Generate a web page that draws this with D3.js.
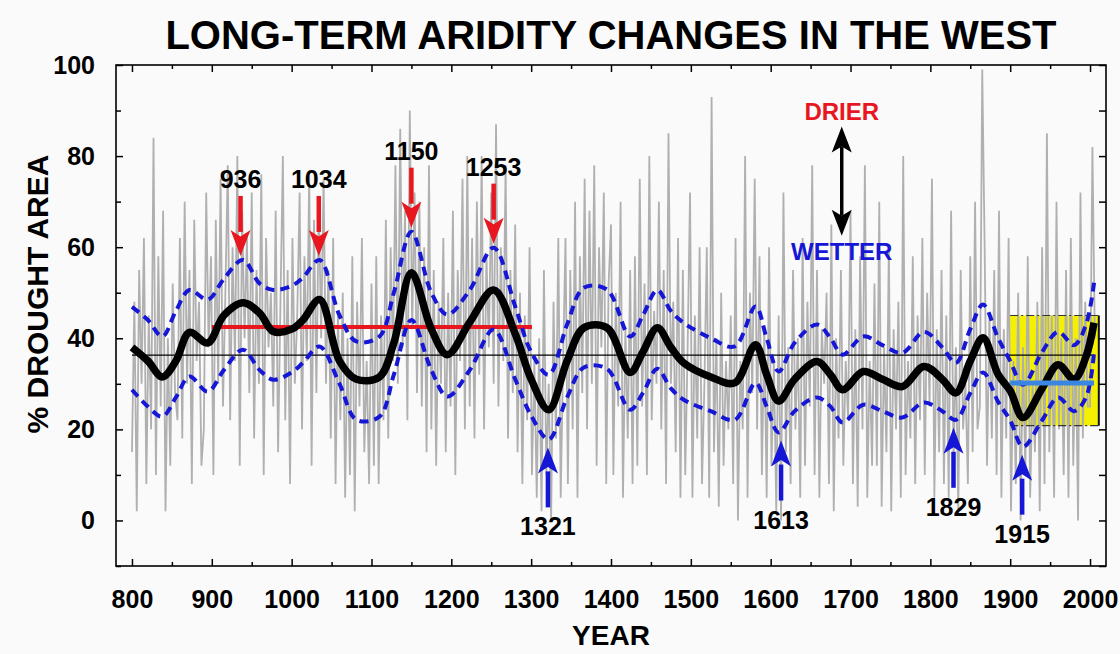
<!DOCTYPE html>
<html>
<head>
<meta charset="utf-8">
<script src="https://cdn.jsdelivr.net/npm/d3@7"></script>
<style>
  body { margin: 0; background: #fafafa; }
  svg text { font-family: "Liberation Sans", Arial, Helvetica, sans-serif; font-weight: bold; }
</style>
</head>
<body>
<script>
// annual % drought area, read every 3rd year starting at 800
const startYear = 800, yearStep = 3;
const annual = [
  15, 48, 2, 55, 30, 62, 8, 45, 20, 84,
  10, 58, 25, 68, 2, 40, 12, 52, 28, 22,
  62, 18, 70, 30, 55, 8, 66, 35, 48, 12,
  20, 72, 38, 58, 10, 66, 30, 75, 25, 50,
  78, 22, 60, 35, 80, 12, 68, 40, 62, 28,
  72, 18, 55, 30, 76, 10, 62, 38, 50, 25,
  68, 15, 48, 80, 22, 55, 8, 62, 30, 45,
  72, 20, 58, 35, 76, 12, 66, 28, 70, 40,
  75, 30, 55, 18, 62, 8, 45, 22, 50, 5,
  40, 10, 58, 2, 48, 25, 62, 15, 35, 8,
  52, 12, 58, 8, 45, 22, 66, 18, 60, 35,
  78, 30, 86, 38, 68, 22, 90, 42, 72, 28,
  70, 25, 60, 15, 78, 20, 55, 12, 48, 30,
  62, 15, 50, 25, 68, 10, 55, 35, 75, 20,
  80, 25, 62, 18, 70, 32, 80, 20, 58, 38,
  72, 30, 87, 25, 60, 35, 78, 18, 55, 28,
  65, 15, 50, 8, 45, 22, 60, 10, 35, 5,
  40, 2, 55, 10, 30, 0, 48, 18, 62, 5,
  35, 62, 8, 55, 20, 70, 5, 58, 28, 75,
  20, 68, 30, 78, 12, 60, 38, 72, 8, 52,
  65, 10, 50, 25, 70, 5, 42, 18, 55, 8,
  58, 12, 75, 25, 52, 10, 80, 22, 46, 30,
  70, 20, 55, 8, 85, 30, 48, 15, 62, 5,
  55, 10, 38, 72, 5, 45, 18, 60, 8, 30,
  60, 5, 93, 15, 40, 3, 50, 12, 35, 20,
  45, 8, 62, 0, 35, 20, 80, 5, 50, 28,
  75, 20, 58, 10, 42, 5, 60, 12, 35, 2,
  45, 0, 72, 15, 38, 8, 55, 20, 40, 5,
  62, 12, 48, 25, 78, 10, 55, 5, 42, 30,
  50, 8, 65, 2, 40, 18, 55, 12, 35, 22,
  68, 8, 42, 3, 58, 20, 78, 5, 35, 12,
  52, 12, 70, 3, 38, 15, 60, 2, 42, 20,
  48, 5, 80, 10, 35, 18, 58, 8, 45, 22,
  62, 10, 50, 25, 75, 5, 42, 15, 55, 8,
  45, 5, 68, 12, 38, 2, 55, 20, 30, 8,
  58, 15, 70, 20, 25, 99, 60, 12, 45, 18,
  55, 10, 68, 5, 42, 18, 62, 2, 35, 8,
  50, 0, 38, 10, 58, 5, 30, 15, 48, 2,
  60, 8, 85, 15, 45, 5, 70, 20, 40, 10,
  55, 5, 62, 12, 40, 0, 72, 18, 48, 25,
  25, 82, 40
];

// smoothed series and its confidence band
const smoothYears = [800, 820, 838, 855, 872, 895, 915, 939, 960, 977,
  1000, 1014, 1035, 1060, 1081, 1110, 1128, 1150, 1175, 1195,
  1223, 1253, 1280, 1300, 1322, 1345, 1366, 1395, 1424, 1440,
  1458, 1475, 1491, 1525, 1555, 1581, 1595, 1610, 1630, 1658,
  1675, 1690, 1716, 1740, 1765, 1792, 1815, 1832, 1850, 1866,
  1885, 1900, 1916, 1940, 1960, 1980, 1995, 2005];
const smoothMean = [38, 35, 31.5, 35, 41.3, 39, 45, 47.8, 45.5, 41.5,
  42, 44, 48.5, 35, 31, 31.5, 39, 54.4, 42, 36.4,
  43.5, 50.6, 41, 31, 24.3, 35, 42.3, 42.3, 32.5, 37,
  42.3, 38, 34.6, 31.5, 30.2, 38.6, 32, 26.2, 31, 34.9,
  32, 28.7, 32.7, 31, 29.4, 33.8, 31, 28, 35, 40.1,
  32, 28.5, 22.6, 29, 34.2, 31, 36, 43.4];
const upperBand = [46.9, 44, 40.4, 46, 50.6, 48.5, 53, 57.2, 52, 50.6,
  51.5, 53.3, 57.2, 45, 39.3, 40.4, 50, 63.4, 50, 45.2,
  50.6, 59.9, 47, 37, 32, 43, 51.1, 50.7, 40.4, 45,
  50.6, 46, 43.4, 40, 38.2, 47, 40, 32.7, 39, 43,
  40, 36.4, 40.4, 38.5, 36.8, 41.4, 38, 34.6, 42, 47.4,
  40, 35, 29.8, 37, 41.4, 38.5, 43, 52.2];
const lowerBand = [28.7, 25, 22.8, 27, 31.6, 28.3, 33, 37.5, 33, 30.9,
  32.5, 34.6, 38.2, 30, 22.1, 22.8, 32, 44, 33, 27.2,
  33, 41.9, 31, 23, 17.8, 27, 33.6, 33.3, 24.3, 28,
  33.3, 29, 26.5, 24, 22.1, 30.2, 25, 19.3, 24, 27,
  25, 21.5, 25.4, 24, 22.6, 25.9, 24, 22.1, 28, 32.5,
  26, 22, 16.2, 22, 27, 24, 27, 36.8];

const longTermMean = 36.3, longTermSpan = [800, 2005];
const medievalMean = 42.5, medievalSpan = [900, 1301];
const modernMean = 30.2, modernSpan = [1900, 2005];
const modernRange = [20.8, 45], modernRangeSpan = [1900, 2011];

const drierYears = [936, 1034, 1150, 1253];
const wetterYears = [1321, 1613, 1829, 1915];

const xTicks = [800, 900, 1000, 1100, 1200, 1300, 1400, 1500, 1600, 1700, 1800, 1900, 2000];
const yTicks = [0, 20, 40, 60, 80, 100];

const width = 1120, height = 654;
const plotLeft = 116, plotRight = 1106, plotTop = 65, plotBottom = 566;
const red = "#e8161e", blue = "#1616d6";

const svg = d3.select("body").append("svg")
    .attr("width", width)
    .attr("height", height);

const x = d3.scaleLinear().domain([780, 2020]).range([plotLeft, plotRight]);
const y = d3.scaleLinear().domain([-10, 100]).range([plotBottom, plotTop]);

// yellow box of the instrumental period, under the annual line
svg.append("rect")
    .attr("x", x(modernRangeSpan[0]))
    .attr("y", y(modernRange[1]))
    .attr("width", x(modernRangeSpan[1]) - x(modernRangeSpan[0]))
    .attr("height", y(modernRange[0]) - y(modernRange[1]))
    .attr("fill", "#f4f000");

// annual values
svg.append("path")
    .datum(annual)
    .attr("fill", "none")
    .attr("stroke", "#b0b0b0")
    .attr("stroke-width", 1.8)
    .attr("d", d3.line()
        .x((d, i) => x(startYear + i * yearStep))
        .y(d => y(d)));

modernRange.forEach(v => {
  svg.append("line")
      .attr("x1", x(modernRangeSpan[0])).attr("x2", x(modernRangeSpan[1]))
      .attr("y1", y(v)).attr("y2", y(v))
      .attr("stroke", "#333").attr("stroke-width", 1.2)
      .attr("stroke-dasharray", "8,3,2,3");
});
svg.append("line")
    .attr("x1", x(modernRangeSpan[1])).attr("x2", x(modernRangeSpan[1]))
    .attr("y1", y(modernRange[0])).attr("y2", y(modernRange[1]))
    .attr("stroke", "#111").attr("stroke-width", 2);

// long-term mean
svg.append("line")
    .attr("x1", x(longTermSpan[0])).attr("x2", x(longTermSpan[1]))
    .attr("y1", y(longTermMean)).attr("y2", y(longTermMean))
    .attr("stroke", "#000").attr("stroke-width", 1.3);

// medieval mean
svg.append("line")
    .attr("x1", x(medievalSpan[0])).attr("x2", x(medievalSpan[1]))
    .attr("y1", y(medievalMean)).attr("y2", y(medievalMean))
    .attr("stroke", red).attr("stroke-width", 4);

const smoothLine = vals => d3.line()
    .x((d, i) => x(smoothYears[i]))
    .y(d => y(d))
    .curve(d3.curveCatmullRom.alpha(0.5))(vals);

[upperBand, lowerBand].forEach(b => {
  svg.append("path")
      .attr("d", smoothLine(b))
      .attr("fill", "none")
      .attr("stroke", blue)
      .attr("stroke-width", 4)
      .attr("stroke-dasharray", "9,6");
});

svg.append("path")
    .attr("d", smoothLine(smoothMean))
    .attr("fill", "none")
    .attr("stroke", "#000")
    .attr("stroke-width", 7.5)
    .attr("stroke-linejoin", "round");

// 20th century mean
svg.append("line")
    .attr("x1", x(modernSpan[0])).attr("x2", x(modernSpan[1]))
    .attr("y1", y(modernMean)).attr("y2", y(modernMean))
    .attr("stroke", "#3a86e0").attr("stroke-width", 5);

// frame
svg.append("rect")
    .attr("x", plotLeft).attr("y", plotTop)
    .attr("width", plotRight - plotLeft).attr("height", plotBottom - plotTop)
    .attr("fill", "none").attr("stroke", "#000").attr("stroke-width", 1.6);

// axes
const xMinor = xTicks.map(d => d + 50).filter(d => d < 2020);
const yMinor = yTicks.map(d => d - 10);

function styleAxis(g) {
  g.select(".domain").remove();
  g.selectAll(".tick line").attr("stroke", "#000").attr("stroke-width", 1.5);
  g.attr("font-size", 25);
  g.selectAll("text").attr("fill", "#000");
}

svg.append("g").attr("transform", `translate(0,${plotBottom})`)
    .call(d3.axisBottom(x).tickValues(xTicks).tickSize(-7).tickPadding(24).tickFormat(d3.format("d")))
    .call(styleAxis);
svg.append("g").attr("transform", `translate(0,${plotBottom})`)
    .call(d3.axisBottom(x).tickValues(xMinor).tickSize(-4).tickFormat(""))
    .call(styleAxis);
svg.append("g").attr("transform", `translate(0,${plotTop})`)
    .call(d3.axisTop(x).tickValues(xTicks).tickSize(-7).tickFormat(""))
    .call(styleAxis);
svg.append("g").attr("transform", `translate(0,${plotTop})`)
    .call(d3.axisTop(x).tickValues(xMinor).tickSize(-4).tickFormat(""))
    .call(styleAxis);
svg.append("g").attr("transform", `translate(${plotLeft},0)`)
    .call(d3.axisLeft(y).tickValues(yTicks).tickSize(-7).tickPadding(21))
    .call(styleAxis);
svg.append("g").attr("transform", `translate(${plotLeft},0)`)
    .call(d3.axisLeft(y).tickValues(yMinor).tickSize(-5).tickFormat(""))
    .call(styleAxis);
svg.append("g").attr("transform", `translate(${plotRight},0)`)
    .call(d3.axisRight(y).tickValues(yTicks.concat(yMinor)).tickSize(-7).tickFormat(""))
    .call(styleAxis);

// titles
svg.append("text")
    .attr("x", (plotLeft + plotRight) / 2).attr("y", 49)
    .attr("text-anchor", "middle")
    .attr("font-size", 40)
    .text("LONG-TERM ARIDITY CHANGES IN THE WEST");
svg.append("text")
    .attr("x", (plotLeft + plotRight) / 2).attr("y", 645)
    .attr("text-anchor", "middle")
    .attr("font-size", 28)
    .text("YEAR");
svg.append("text")
    .attr("transform", "translate(48,294) rotate(-90)")
    .attr("text-anchor", "middle")
    .attr("font-size", 30)
    .text("% DROUGHT AREA");

// arrows
function arrow(xp, yTail, yTip, color, shaft, headW, headL) {
  const dir = yTip > yTail ? 1 : -1;
  svg.append("line")
      .attr("x1", xp).attr("x2", xp)
      .attr("y1", yTail).attr("y2", yTip - dir * (headL - 2))
      .attr("stroke", color).attr("stroke-width", shaft);
  svg.append("path")
      .attr("d", `M${xp},${yTip} L${xp - headW / 2},${yTip - dir * headL} L${xp},${yTip - dir * headL * 0.75} L${xp + headW / 2},${yTip - dir * headL} Z`)
      .attr("fill", color);
}

const nearest = (band, yr) => band[d3.leastIndex(smoothYears, (a, b) => Math.abs(a - yr) - Math.abs(b - yr))];

drierYears.forEach(yr => {
  const tip = y(nearest(upperBand, yr)) - 4;
  arrow(x(yr), tip - 60, tip, red, 4.5, 20, 26);
  svg.append("text")
      .attr("x", x(yr)).attr("y", tip - 68)
      .attr("text-anchor", "middle")
      .attr("font-size", 25)
      .text(yr);
});

wetterYears.forEach(yr => {
  const tip = y(nearest(lowerBand, yr)) + 8;
  arrow(x(yr), tip + 60, tip, blue, 4.5, 20, 26);
  svg.append("text")
      .attr("x", x(yr)).attr("y", tip + 88)
      .attr("text-anchor", "middle")
      .attr("font-size", 25)
      .text(yr);
});

// drier / wetter key
const keyX = x(1689);
svg.append("text")
    .attr("x", keyX).attr("y", y(88))
    .attr("text-anchor", "middle")
    .attr("font-size", 24)
    .attr("fill", red)
    .text("DRIER");
svg.append("text")
    .attr("x", keyX).attr("y", y(57.2))
    .attr("text-anchor", "middle")
    .attr("font-size", 24)
    .attr("fill", blue)
    .text("WETTER");
const keyTop = y(86.5), keyBottom = y(62.5);
svg.append("line")
    .attr("x1", keyX).attr("x2", keyX)
    .attr("y1", keyTop + 20).attr("y2", keyBottom - 20)
    .attr("stroke", "#000").attr("stroke-width", 3.5);
svg.append("path")
    .attr("d", `M${keyX},${keyTop} L${keyX - 10},${keyTop + 26} L${keyX},${keyTop + 20} L${keyX + 10},${keyTop + 26} Z`)
    .attr("fill", "#000");
svg.append("path")
    .attr("d", `M${keyX},${keyBottom} L${keyX - 10},${keyBottom - 26} L${keyX},${keyBottom - 20} L${keyX + 10},${keyBottom - 26} Z`)
    .attr("fill", "#000");
</script>
</body>
</html>
